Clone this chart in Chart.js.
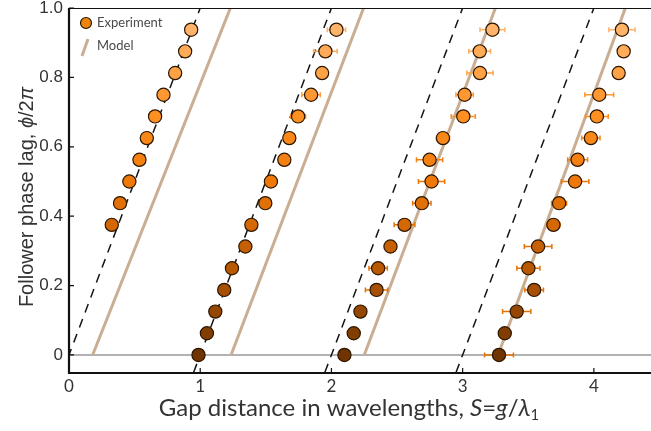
<!DOCTYPE html>
<html>
<head>
<meta charset="utf-8">
<script src="https://cdn.jsdelivr.net/npm/chart.js@4.4.1/dist/chart.umd.min.js"></script>
<style>
  body { margin: 0; background: #fff; overflow: hidden; }
  #wrap { width: 651px; height: 431px; position: relative; }
  canvas { display: block; }
</style>
</head>
<body>
<div id="wrap"><canvas id="lagChart"></canvas></div>
<script>
// tick labels
const xTickValues = [0, 1, 2, 3, 4];
const xTickLabels = ['0', '1', '2', '3', '4'];
const yTickValues = [0, 0.2, 0.4, 0.6, 0.8, 1.0];
const yTickLabels = ['0', '0.2', '0.4', '0.6', '0.8', '1.0'];

// measured phase lags (phi / 2pi)
const lagBranch1 = [0.375, 0.4375, 0.5, 0.5625, 0.625, 0.6875, 0.75, 0.8125, 0.875, 0.9375];
const lagFull = [0, 0.0625, 0.125, 0.1875, 0.25, 0.3125, 0.375, 0.4375, 0.5, 0.5625, 0.625, 0.6875, 0.75, 0.8125, 0.875, 0.9375];

// gap distances S for each branch
const gapBranch1 = [0.326, 0.389, 0.460, 0.537, 0.593, 0.656, 0.720, 0.809, 0.885, 0.931];
const gapBranch2 = [0.987, 1.051, 1.115, 1.183, 1.242, 1.344, 1.390, 1.496, 1.539, 1.641, 1.679, 1.746, 1.845, 1.929, 1.954, 2.038];
const gapBranch3 = [2.099, 2.170, 2.221, 2.344, 2.356, 2.450, 2.557, 2.689, 2.763, 2.748, 2.850, 3.005, 3.015, 3.132, 3.130, 3.227];
const gapBranch4 = [3.277, 3.321, 3.412, 3.545, 3.501, 3.575, 3.692, 3.735, 3.857, 3.876, 3.977, 4.023, 4.041, 4.189, 4.227, 4.214];

// half widths of the horizontal error bars
const errBranch1 = [0, 0, 0, 0, 0, 0, 0, 0, 0, 0];
const errBranch2 = [0.02, 0.02, 0.02, 0.02, 0.02, 0.02, 0.02, 0.02, 0.02, 0.02, 0.02, 0.057, 0.07, 0.04, 0.09, 0.07];
const errBranch3 = [0.03, 0.03, 0.04, 0.085, 0.07, 0.04, 0.079, 0.07, 0.10, 0.10, 0.05, 0.092, 0.066, 0.10, 0.083, 0.095];
const errBranch4 = [0.11, 0.04, 0.108, 0.071, 0.088, 0.105, 0.05, 0.057, 0.105, 0.076, 0.07, 0.087, 0.11, 0.03, 0.045, 0.10];

// model lines: S at phi=0 and at phi=2pi
const modelStartS = [0.18, 1.235, 2.25, 3.27];
const modelEndS = [1.23, 2.245, 3.25, 4.24];
// dashed reference lines phi/2pi = S - n
const refStartS = [-0.05, 0.95, 1.95, 2.95];
const refStartLag = [-0.05, -0.05, -0.05, -0.05];
const refEndS = [1, 2, 3, 4];

const X_MIN = 0, X_MAX = 4.376, Y_MIN = -0.052, Y_MAX = 1.0;

// marker colour goes from dark brown (small lag) to light orange (large lag)
const colourStops = [
  [0.0, [112, 52, 0]],
  [0.25, [185, 88, 2]],
  [0.5, [238, 120, 8]],
  [0.7, [255, 145, 35]],
  [0.95, [255, 182, 110]]
];
function lagColour(v) {
  let a = colourStops[0], b = colourStops[colourStops.length - 1];
  for (let i = 0; i < colourStops.length - 1; i++) {
    if (v >= colourStops[i][0] && v <= colourStops[i + 1][0]) { a = colourStops[i]; b = colourStops[i + 1]; break; }
  }
  const t = b[0] === a[0] ? 0 : Math.min(1, Math.max(0, (v - a[0]) / (b[0] - a[0])));
  const c = a[1].map((ch, k) => Math.round(ch + (b[1][k] - ch) * t));
  return `rgb(${c[0]},${c[1]},${c[2]})`;
}

function branch(gaps, lags, errs) {
  return {
    type: 'scatter',
    data: gaps.map((s, i) => ({ x: s, y: lags[i] })),
    errors: errs,
    isExperiment: true,
    pointRadius: 6.6,
    pointHoverRadius: 6.6,
    pointBackgroundColor: lags.map(lagColour),
    pointBorderColor: '#2b1600',
    pointBorderWidth: 1.2,
    order: 0
  };
}

const datasets = [
  branch(gapBranch1, lagBranch1, errBranch1),
  branch(gapBranch2, lagFull, errBranch2),
  branch(gapBranch3, lagFull, errBranch3),
  branch(gapBranch4, lagFull, errBranch4)
];

modelStartS.forEach((s, i) => {
  datasets.push({
    type: 'line',
    data: [{ x: s, y: 0 }, { x: modelEndS[i], y: 1 }],
    borderColor: '#c9ae94',
    borderWidth: 3,
    pointRadius: 0,
    order: 2
  });
});

refStartS.forEach((s, i) => {
  datasets.push({
    type: 'line',
    data: [{ x: s, y: refStartLag[i] }, { x: refEndS[i], y: 1 }],
    borderColor: '#151515',
    borderWidth: 1.5,
    borderDash: [9, 7],
    pointRadius: 0,
    order: 3
  });
});

// axes frame, zero line, inward ticks, error bars, legend and axis titles
let barsDrawn = false;
const decorations = {
  id: 'decorations',
  beforeDraw() { barsDrawn = false; },
  beforeDatasetsDraw(chart) {
    const ctx = chart.ctx, a = chart.chartArea;
    const y0 = chart.scales.y.getPixelForValue(0);
    ctx.save();
    ctx.strokeStyle = '#999999';
    ctx.lineWidth = 1.5;
    ctx.beginPath(); ctx.moveTo(a.left, y0); ctx.lineTo(chart.width, y0); ctx.stroke();
    ctx.restore();
  },
  beforeDatasetDraw(chart, args) {
    const ds = chart.data.datasets[args.index];
    if (!ds.isExperiment || barsDrawn) return;
    barsDrawn = true;
    const ctx = chart.ctx, xs = chart.scales.x, ys = chart.scales.y;
    ctx.save();
    chart.data.datasets.forEach(d => {
      if (!d.isExperiment) return;
      d.data.forEach((p, i) => {
        const e = d.errors[i];
        if (!e) return;
        const py = ys.getPixelForValue(p.y);
        const x0 = xs.getPixelForValue(p.x - e), x1 = xs.getPixelForValue(p.x + e);
        ctx.strokeStyle = lagColour(Math.max(p.y, 0.45));
        ctx.lineWidth = 1.5;
        ctx.beginPath();
        ctx.moveTo(x0, py); ctx.lineTo(x1, py);
        ctx.moveTo(x0, py - 2.5); ctx.lineTo(x0, py + 2.5);
        ctx.moveTo(x1, py - 2.5); ctx.lineTo(x1, py + 2.5);
        ctx.stroke();
      });
    });
    ctx.restore();
  },
  afterDraw(chart) {
    const ctx = chart.ctx, a = chart.chartArea, xs = chart.scales.x, ys = chart.scales.y;
    ctx.save();
    // frame
    ctx.strokeStyle = '#111';
    ctx.lineWidth = 1;
    ctx.beginPath(); ctx.moveTo(a.left, a.top + 0.5); ctx.lineTo(chart.width, a.top + 0.5); ctx.stroke();
    ctx.lineWidth = 2.2;
    ctx.beginPath();
    ctx.moveTo(a.left, a.top); ctx.lineTo(a.left, a.bottom); ctx.lineTo(chart.width, a.bottom);
    ctx.stroke();
    ctx.lineWidth = 1.2;
    ctx.beginPath();
    yTickValues.forEach(v => {
      const py = ys.getPixelForValue(v);
      ctx.moveTo(a.left, py); ctx.lineTo(a.left + 5, py);
    });
    xTickValues.slice(1).forEach(v => {
      const px = xs.getPixelForValue(v);
      ctx.moveTo(px, a.bottom); ctx.lineTo(px, a.bottom - 5);
    });
    ctx.stroke();

    // legend
    ctx.fillStyle = '#ec840e';
    ctx.strokeStyle = '#2b1600';
    ctx.lineWidth = 1.2;
    ctx.beginPath(); ctx.arc(86, 23, 5.5, 0, Math.PI * 2); ctx.fill(); ctx.stroke();
    ctx.strokeStyle = '#c9ae94';
    ctx.lineWidth = 3;
    ctx.beginPath(); ctx.moveTo(82, 56); ctx.lineTo(88, 39); ctx.stroke();
    ctx.fillStyle = '#4a4a4a';
    ctx.font = '13px Lato';
    ctx.textBaseline = 'middle';
    ctx.textAlign = 'left';
    ctx.fillText('Experiment', 97, 23);
    ctx.fillText('Model', 97, 46);

    // axis titles with italic symbols
    function drawRich(parts, size, family) {
      let w = 0;
      parts.forEach(p => {
        ctx.font = `${p.it ? 'italic ' : ''}${p.sub ? size * 0.62 : size}px ${family}`;
        p.w = ctx.measureText(p.t).width;
        w += p.w;
      });
      let x = -w / 2;
      parts.forEach(p => {
        ctx.font = `${p.it ? 'italic ' : ''}${p.sub ? size * 0.62 : size}px ${family}`;
        ctx.fillText(p.t, x, p.sub ? size * 0.28 : 0);
        x += p.w;
      });
    }
    ctx.fillStyle = '#333';
    ctx.textAlign = 'left';
    ctx.textBaseline = 'middle';
    ctx.save();
    ctx.translate(349, 408);
    drawRich([
      { t: 'Gap distance in wavelengths, ' },
      { t: 'S', it: true }, { t: '=' }, { t: 'g', it: true }, { t: '/' },
      { t: 'λ', it: true }, { t: '1', sub: true }
    ], 24, 'Lato');
    ctx.restore();
    ctx.save();
    ctx.translate(27, 197);
    ctx.rotate(-Math.PI / 2);
    drawRich([
      { t: 'Follower phase lag, ' }, { t: 'ϕ', it: true }, { t: '/2' }, { t: 'π', it: true }
    ], 20, '"Liberation Sans"');
    ctx.restore();
    ctx.restore();
  }
};

// drop the extra room the scales keep for their end labels
function noEdgePadding(s) {
  s.paddingTop = 0; s.paddingBottom = 0; s.paddingLeft = 0; s.paddingRight = 0;
}

new Chart(document.getElementById('lagChart'), {
  type: 'scatter',
  data: { datasets: datasets },
  options: {
    responsive: true,
    maintainAspectRatio: false,
    animation: false,
    layout: { padding: { top: 8, right: 0, left: 0, bottom: 0 } },
    plugins: { legend: { display: false }, tooltip: { enabled: false } },
    scales: {
      x: {
        type: 'linear',
        min: X_MIN,
        max: X_MAX,
        afterFit: s => { s.height = 58; noEdgePadding(s); },
        afterBuildTicks: s => { s.ticks = xTickValues.map(v => ({ value: v })); },
        grid: { display: false, drawTicks: false },
        border: { display: false },
        ticks: {
          padding: 3,
          color: '#333',
          font: { family: 'Lato', size: 17 },
          callback: (v) => xTickLabels[xTickValues.indexOf(v)]
        }
      },
      y: {
        type: 'linear',
        min: Y_MIN,
        max: Y_MAX,
        afterFit: s => { s.width = 69; noEdgePadding(s); },
        afterBuildTicks: s => { s.ticks = yTickValues.map(v => ({ value: v })); },
        grid: { display: false, drawTicks: false },
        border: { display: false },
        ticks: {
          padding: 6,
          color: '#333',
          font: { family: 'Liberation Sans', size: 17 },
          callback: (v) => yTickLabels[yTickValues.indexOf(v)]
        }
      }
    }
  },
  plugins: [decorations]
});
</script>
</body>
</html>
